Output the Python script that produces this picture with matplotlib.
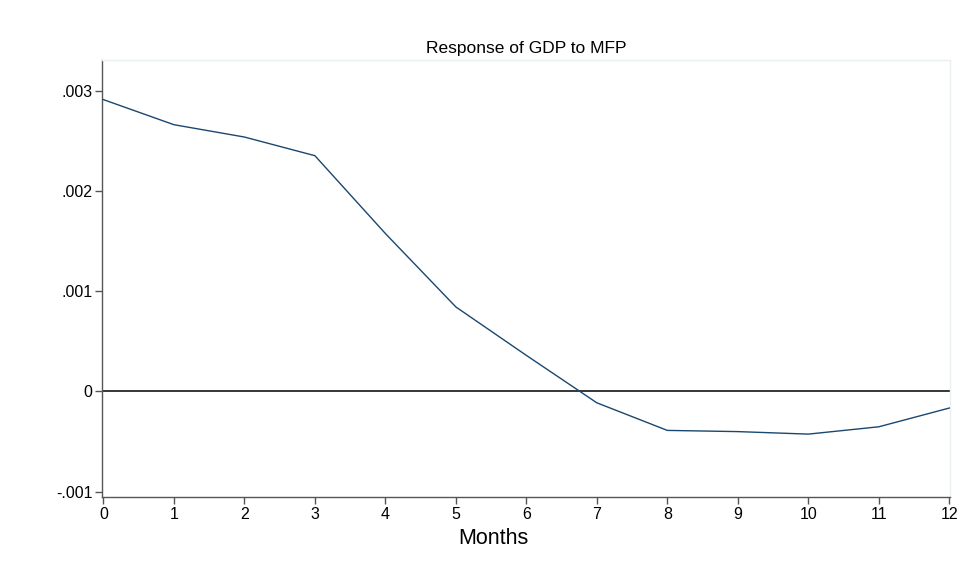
import matplotlib
matplotlib.use("Agg")
import matplotlib.pyplot as plt
from matplotlib.ticker import FuncFormatter

months = [0, 1, 2, 3, 4, 5, 6, 7, 8, 9, 10, 11, 12]
response = [0.00291, 0.00266, 0.002537, 0.002351, 0.001575, 0.000843, 0.00036,
            -0.000113, -0.000388, -0.00040, -0.000425, -0.000352, -0.000165]
yticks = [-0.001, 0, 0.001, 0.002, 0.003]
xticks = list(range(0, 13))

plt.rcParams['font.family'] = ['Liberation Sans', 'DejaVu Sans']

fig = plt.figure(figsize=(9.8, 5.66), dpi=100)
ax = fig.add_axes([102/980, 69/566, (950-102)/980, (497-60)/566])

ax.plot(months, response, color='#1a476f', lw=1.0, zorder=3)
ax.axhline(0, color='black', lw=1.1, zorder=2)

ax.set_xlim(-0.02, 12.01)
ax.set_ylim(-0.001052, 0.003305)

ax.set_xticks(xticks)
ax.set_yticks(yticks)

def yfmt(v, pos):
    if abs(v) < 1e-12:
        return '0'
    s = f"{v:.3f}"
    return s.replace('0.', '.', 1)

ax.yaxis.set_major_formatter(FuncFormatter(yfmt))

for sp in ['left', 'bottom']:
    ax.spines[sp].set_color('#555555')
    ax.spines[sp].set_linewidth(1.0)
for sp in ['top', 'right']:
    ax.spines[sp].set_color('#eaf0f2')
    ax.spines[sp].set_linewidth(1.0)

ax.tick_params(axis='both', direction='out', length=5, width=1.0, color='#555555',
               labelsize=11.5, labelcolor='black', pad=2)

fig.text(493/980, 1 - 539/566, 'Months', ha='center', va='center', fontsize=15.5)
fig.text(526/980, 1 - 49/566, 'Response of GDP to MFP', ha='center', va='center', fontsize=12.5)

fig.savefig('out.png', dpi=100, facecolor='white')
